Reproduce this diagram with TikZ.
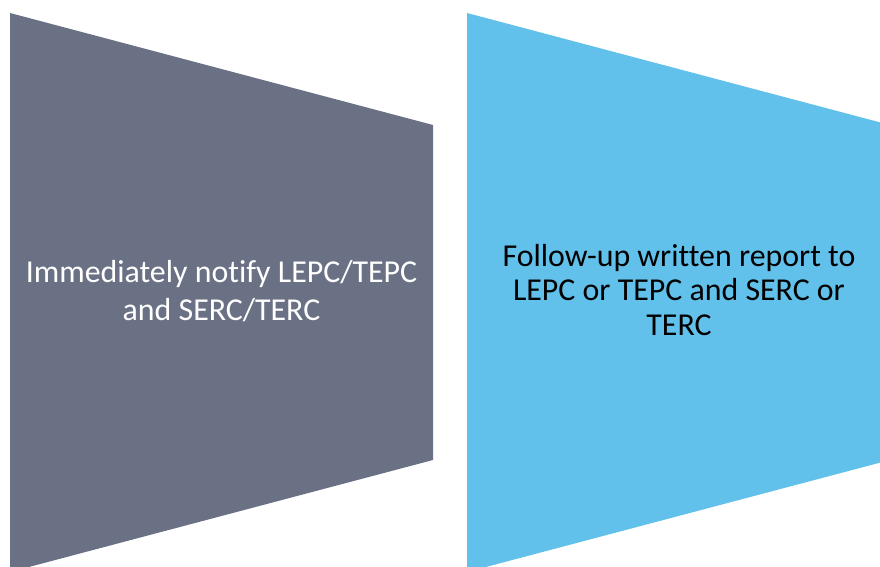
\documentclass[tikz,border=0pt]{standalone}
\usepackage{fontspec}
\setmainfont[Ligatures=NoCommon]{Carlito}
\definecolor{slate}{HTML}{6B7185}
\definecolor{sky}{HTML}{61C1EB}
\begin{document}
\begin{tikzpicture}[x=1bp,y=-1bp,
  label/.style={align=center,inner sep=0pt}]
\useasboundingbox (0,0) rectangle (880,567);
\begin{scope}
\clip (0,0) rectangle (880,567);
\fill[slate] (10,13) -- (433,125) -- (433,460) -- (10,572) -- cycle;
\fill[sky] (467,13) -- (890,125) -- (890,460) -- (467,572) -- cycle;
\end{scope}
\node[label,text=white,font=\fontsize{32}{37.7}\selectfont] (a) at (221.5,291) {Immediately notify LEPC/TEPC\\and SERC/TERC};
\node[label,text=black,font=\fontsize{32}{34.7}\selectfont] (b) at (679,290) {Follow-up written report to\\LEPC or TEPC and SERC or\\TERC};
\end{tikzpicture}
\end{document}
